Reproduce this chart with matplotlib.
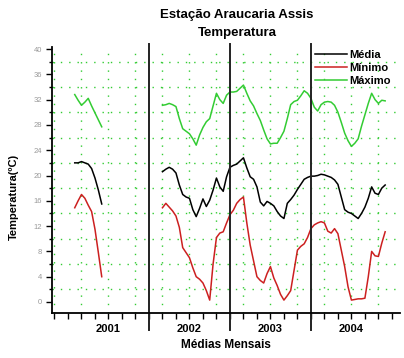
import matplotlib
matplotlib.use('Agg')
import matplotlib.pyplot as plt
import numpy as np

plt.rcParams['font.family'] = ['Liberation Sans', 'DejaVu Sans']

# month index: 0 = Jan 2001
months_2001 = np.arange(1, 5.5, 0.5)
media_2001 = [22.0, 22.0, 22.2, 22.0, 21.8, 21.1, 19.6, 17.7, 15.5]
minimo_2001 = [14.9, 16.0, 17.0, 16.4, 15.3, 14.3, 11.5, 7.8, 4.0]
maximo_2001 = [32.8, 31.9, 31.1, 31.6, 32.2, 31.0, 29.9, 28.8, 27.7]

months_0204 = np.arange(14, 47.5, 0.5)
media_0204 = [20.6, 21.0, 21.3, 21.0, 20.4, 18.5, 17.0, 16.6, 16.4, 14.6,
              13.5, 14.8, 16.3, 15.1, 16.1, 17.7, 19.6, 18.2, 17.5, 19.8,
              21.3, 21.6, 21.8, 22.3, 22.8, 21.2, 19.8, 19.4, 18.2, 15.8,
              15.2, 15.9, 15.6, 15.2, 14.3, 13.6, 13.2, 15.6, 16.2, 16.9,
              17.8, 18.6, 19.4, 19.7, 19.9, 19.9, 20.0, 20.2, 20.1, 19.9,
              19.7, 19.3, 18.6, 16.6, 14.6, 14.2, 14.0, 13.6, 13.2, 14.0,
              15.0, 16.4, 18.2, 17.2, 17.0, 18.0, 18.5]
minimo_0204 = [14.9, 15.6, 15.0, 14.4, 13.6, 11.8, 8.6, 7.8, 7.0, 5.4,
               4.0, 3.6, 3.0, 1.8, 0.3, 6.0, 10.2, 10.9, 11.1, 12.5,
               13.8, 14.5, 15.6, 16.2, 16.6, 12.5, 9.0, 6.5, 4.0, 3.4,
               3.0, 4.5, 5.6, 3.8, 2.6, 1.2, 0.3, 1.0, 1.8, 5.0,
               8.2, 8.8, 9.2, 10.2, 11.6, 12.2, 12.5, 12.7, 12.5, 11.2,
               10.9, 11.6, 10.8, 8.2, 5.6, 2.4, 0.3, 0.4, 0.5, 0.5,
               0.6, 4.0, 8.0, 7.3, 7.2, 9.3, 11.1]
maximo_0204 = [31.1, 31.2, 31.4, 31.2, 30.9, 29.0, 27.4, 27.0, 26.6, 25.8,
               24.8, 26.4, 27.6, 28.5, 29.0, 31.0, 33.0, 32.0, 31.4, 32.7,
               33.2, 33.2, 33.3, 33.8, 34.3, 33.0, 31.8, 31.0, 29.8, 28.7,
               27.2, 25.8, 25.0, 25.1, 25.1, 26.0, 27.0, 29.0, 31.2, 31.7,
               31.9, 32.6, 33.4, 33.0, 32.2, 30.8, 30.2, 31.2, 31.6, 31.7,
               31.6, 31.1, 30.0, 28.4, 26.7, 25.5, 24.6, 25.1, 25.8, 27.8,
               29.6, 31.4, 33.0, 32.0, 31.4, 31.9, 31.8]

years = ['2001', '2002', '2003', '2004']
year_centers = [6, 18, 30, 42]
year_breaks = [12, 24, 36]

c_media = 'black'
c_min = '#cc2020'
c_max = '#33cc33'

fig = plt.figure(figsize=(4.04, 3.58), dpi=100)
ax = fig.add_axes([52 / 404, 1 - 313 / 358, 348 / 404, 266 / 358])

# dotted green grid
for m in np.arange(-2, 48, 4):
    ax.axvline(m, color=c_max, lw=1.0, ls=(0, (1, 5)), zorder=0)
for v in np.arange(2, 40, 4):
    ax.axhline(v, color=c_max, lw=1.0, ls=(0, (1, 5)), zorder=0)

ax.plot(months_2001, media_2001, color=c_media, lw=1.1, label='Média')
ax.plot(months_2001, minimo_2001, color=c_min, lw=1.1, label='Mínimo')
ax.plot(months_2001, maximo_2001, color=c_max, lw=1.1, label='Máximo')
ax.plot(months_0204, media_0204, color=c_media, lw=1.1)
ax.plot(months_0204, minimo_0204, color=c_min, lw=1.1)
ax.plot(months_0204, maximo_0204, color=c_max, lw=1.1)

for b in year_breaks:
    ax.axvline(b, ymin=-0.065, ymax=1.01, color='#222222', lw=1.4, clip_on=False)

ax.set_xlim(-2.37, 49.2)
ax.set_ylim(-1.74, 40.32)

ax.set_xticks(year_centers)
ax.set_xticklabels(years, fontsize=8, fontweight='bold')
ax.set_xticks(np.arange(-2, 49, 2), minor=True)
ax.tick_params(axis='x', which='both', direction='out', length=4, width=1, pad=4)

ax.set_yticks(np.arange(0, 41, 4))
ax.set_yticks(np.arange(2, 40, 4), minor=True)
ax.tick_params(axis='y', which='major', direction='out', length=4, width=1,
               labelsize=5.5, labelcolor='#999999', pad=3)
ax.tick_params(axis='y', which='minor', direction='out', length=2, width=1)

for s in ['top', 'right']:
    ax.spines[s].set_visible(False)
ax.spines['left'].set_linewidth(1.3)
ax.spines['bottom'].set_linewidth(1.3)

ax.legend(loc='upper left', bbox_to_anchor=(0.755, 0.99), frameon=False,
          borderaxespad=0, borderpad=0, handlelength=2.9, handletextpad=0.2,
          labelspacing=0.3, prop={'size': 8, 'weight': 'bold'})

fig.text(237 / 404, 1 - 15 / 358, 'Estação Araucaria Assis', ha='center',
         va='center', fontsize=9.5, fontweight='bold')
fig.text(237 / 404, 1 - 33 / 358, 'Temperatura', ha='center',
         va='center', fontsize=9.5, fontweight='bold')
fig.text(14 / 404, 1 - 197 / 358, 'Temperatura(ºC)', rotation=90, ha='center',
         va='center', fontsize=8, fontweight='bold')
fig.text(226 / 404, 1 - 345 / 358, 'Médias Mensais', ha='center',
         va='center', fontsize=8.5, fontweight='bold')

fig.savefig('out.png', dpi=100)
